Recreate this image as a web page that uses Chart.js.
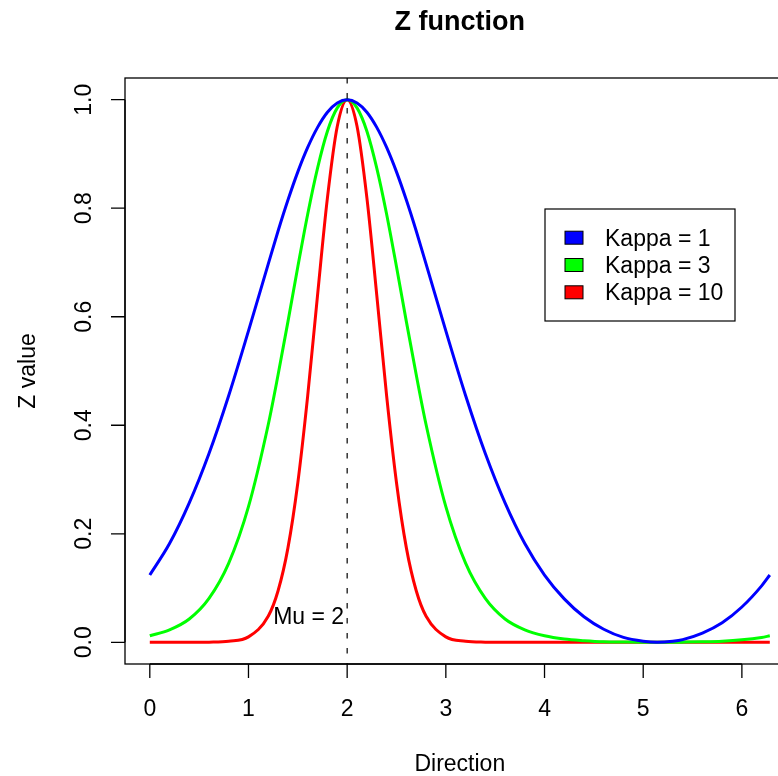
<!DOCTYPE html>
<html lang="en">
<head>
  <meta charset="UTF-8" />
  <title>Z function</title>
  <script src="https://cdn.jsdelivr.net/npm/chart.js"></script>
  <style>
    body { margin: 0; background: #fff; }
    #wrap { width: 778px; height: 776px; position: relative; }
  </style>
</head>
<body>
  <div id="wrap"><canvas id="chart"></canvas></div>

  <script>
    const directions = [0, 0.2, 0.4, 0.6, 0.8, 1.0, 1.2, 1.3, 1.4, 1.5, 1.6, 1.7, 1.8, 1.9, 2.0,
      2.1, 2.2, 2.3, 2.4, 2.5, 2.6, 2.7, 2.8, 3.0, 3.2, 3.4, 3.6, 3.8, 4.0, 4.2, 4.4, 4.6, 4.8,
      5.0, 5.14, 5.3, 5.4, 5.6, 5.8, 6.0, 6.2, 6.283];

    const kappa1 = [0.124, 0.182, 0.257, 0.348, 0.455, 0.574, 0.697, 0.758, 0.815, 0.867, 0.912, 0.949, 0.977, 0.994, 1.0,
      0.994, 0.977, 0.949, 0.912, 0.867, 0.815, 0.758, 0.697, 0.574, 0.455, 0.348, 0.257, 0.182, 0.124, 0.080, 0.047, 0.024, 0.009,
      0.002, 0, 0.002, 0.005, 0.017, 0.036, 0.065, 0.104, 0.124];

    const kappa3 = [0.012, 0.023, 0.043, 0.081, 0.146, 0.250, 0.401, 0.493, 0.591, 0.692, 0.789, 0.874, 0.942, 0.985, 1.0,
      0.985, 0.942, 0.874, 0.789, 0.692, 0.591, 0.493, 0.401, 0.250, 0.146, 0.081, 0.043, 0.023, 0.012, 0.006, 0.003, 0.001, 0.0005,
      0.0001, 0, 0.0001, 0.0003, 0.0009, 0.002, 0.0045, 0.009, 0.012];

    const kappa10 = [0, 0, 0, 0.0003, 0.002, 0.010, 0.048, 0.095, 0.174, 0.294, 0.454, 0.640, 0.819, 0.951, 1.0,
      0.951, 0.819, 0.640, 0.454, 0.294, 0.174, 0.095, 0.048, 0.010, 0.002, 0.0003, 0, 0, 0, 0, 0, 0, 0,
      0, 0, 0, 0, 0, 0, 0, 0, 0];

    const seriesLabels = ['Kappa = 1', 'Kappa = 3', 'Kappa = 10'];
    const seriesColors = ['#0000ff', '#00ff00', '#ff0000'];
    const xTicks = [0, 1, 2, 3, 4, 5, 6];
    const yTicks = [0, 0.2, 0.4, 0.6, 0.8, 1.0];
    const mu = 2;

    const FONT = '"Liberation Sans", Arial, Helvetica, sans-serif';

    function toPoints(ys) {
      return directions.map((x, i) => ({ x: x, y: ys[i] }));
    }

    // R-style box, axes, labels, legend and the mu marker
    const rDecor = {
      id: 'rDecor',
      afterDraw(chart) {
        const ctx = chart.ctx;
        const a = chart.chartArea;
        const xs = chart.scales.x;
        const ys = chart.scales.y;
        ctx.save();
        ctx.strokeStyle = '#000';
        ctx.fillStyle = '#000';
        ctx.lineWidth = 1.3;

        // box (right side runs off the canvas like the reference)
        ctx.strokeRect(a.left, a.top, 900, a.bottom - a.top);

        // dashed mu line
        const mx = xs.getPixelForValue(mu);
        ctx.save();
        ctx.lineWidth = 1.2;
        ctx.setLineDash([5.5, 9.5]);
        ctx.beginPath();
        ctx.moveTo(mx, a.top);
        ctx.lineTo(mx, a.bottom);
        ctx.stroke();
        ctx.restore();

        ctx.font = '23px ' + FONT;

        // x axis
        ctx.beginPath();
        ctx.moveTo(xs.getPixelForValue(xTicks[0]), a.bottom);
        ctx.lineTo(xs.getPixelForValue(xTicks[xTicks.length - 1]), a.bottom);
        xTicks.forEach(t => {
          const px = xs.getPixelForValue(t);
          ctx.moveTo(px, a.bottom);
          ctx.lineTo(px, a.bottom + 14);
        });
        ctx.stroke();
        ctx.textAlign = 'center';
        ctx.textBaseline = 'alphabetic';
        xTicks.forEach(t => {
          ctx.fillText(String(t), xs.getPixelForValue(t), 716);
        });

        // y axis
        ctx.beginPath();
        ctx.moveTo(a.left, ys.getPixelForValue(yTicks[0]));
        ctx.lineTo(a.left, ys.getPixelForValue(yTicks[yTicks.length - 1]));
        yTicks.forEach(t => {
          const py = ys.getPixelForValue(t);
          ctx.moveTo(a.left, py);
          ctx.lineTo(a.left - 14, py);
        });
        ctx.stroke();
        yTicks.forEach(t => {
          ctx.save();
          ctx.translate(91, ys.getPixelForValue(t));
          ctx.rotate(-Math.PI / 2);
          ctx.fillText(t.toFixed(1), 0, 0);
          ctx.restore();
        });

        // axis titles
        const cx = (a.left + xs.getPixelForValue(6.5345)) / 2;
        ctx.fillText('Direction', cx, 771);
        ctx.save();
        ctx.translate(35, (a.top + a.bottom) / 2);
        ctx.rotate(-Math.PI / 2);
        ctx.fillText('Z value', 0, 0);
        ctx.restore();

        // main title
        ctx.font = 'bold 27px ' + FONT;
        ctx.fillText('Z function', cx, 30);

        // mu label
        ctx.font = '23px ' + FONT;
        ctx.textAlign = 'right';
        ctx.fillText('Mu = ' + mu, mx - 3, 624);

        // legend
        ctx.lineWidth = 1.2;
        ctx.strokeRect(545, 209, 190, 112);
        ctx.textAlign = 'left';
        chart.data.datasets.forEach((ds, i) => {
          const rowY = 237.7 + i * 27.3;
          ctx.fillStyle = ds.borderColor;
          ctx.fillRect(565, rowY - 6.5, 18, 13);
          ctx.lineWidth = 1;
          ctx.strokeRect(565, rowY - 6.5, 18, 13);
          ctx.fillStyle = '#000';
          ctx.fillText(ds.label, 605, rowY + 8);
        });

        ctx.restore();
      }
    };

    new Chart(document.getElementById('chart'), {
      type: 'line',
      data: {
        datasets: [kappa1, kappa3, kappa10].map((ys, i) => ({
          label: seriesLabels[i],
          data: toPoints(ys),
          borderColor: seriesColors[i],
          backgroundColor: seriesColors[i],
          borderWidth: 3,
          pointRadius: 0,
          fill: false,
          cubicInterpolationMode: 'monotone'
        }))
      },
      options: {
        responsive: true,
        maintainAspectRatio: false,
        animation: false,
        layout: { padding: { left: 125, top: 78, right: 0, bottom: 112 } },
        plugins: { legend: { display: false }, title: { display: false }, tooltip: { enabled: false } },
        scales: {
          x: { type: 'linear', min: -0.2513, max: 6.366, display: false },
          y: { type: 'linear', min: -0.04, max: 1.04, display: false }
        }
      },
      plugins: [rDecor]
    });
  </script>
</body>
</html>
